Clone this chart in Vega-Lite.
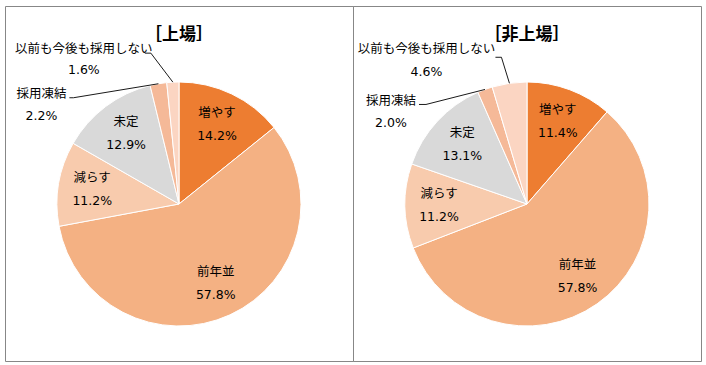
{
  "$schema": "https://vega.github.io/schema/vega-lite/v6.json",
  "padding": {"left": 4, "top": 5, "right": 0, "bottom": 0},
  "background": "white",
  "spacing": 0,
  "bounds": "flush",
  "config": {
    "view": {"stroke": "#878787", "strokeWidth": 1},
    "font": "Noto Sans CJK JP",
    "text": {"font": "DejaVu Sans, Noto Sans CJK JP", "fontSize": 12.5, "color": "#000000"}
  },
  "data": {
    "values": [
      {"panel": "上場", "category": "増やす", "share": 14.2, "order": 1},
      {"panel": "上場", "category": "前年並", "share": 57.8, "order": 2},
      {"panel": "上場", "category": "減らす", "share": 11.2, "order": 3},
      {"panel": "上場", "category": "未定", "share": 12.9, "order": 4},
      {"panel": "上場", "category": "採用凍結", "share": 2.2, "order": 5},
      {"panel": "上場", "category": "以前も今後も採用しない", "share": 1.6, "order": 6},
      {"panel": "非上場", "category": "増やす", "share": 11.4, "order": 1},
      {"panel": "非上場", "category": "前年並", "share": 57.8, "order": 2},
      {"panel": "非上場", "category": "減らす", "share": 11.2, "order": 3},
      {"panel": "非上場", "category": "未定", "share": 13.1, "order": 4},
      {"panel": "非上場", "category": "採用凍結", "share": 2.0, "order": 5},
      {"panel": "非上場", "category": "以前も今後も採用しない", "share": 4.6, "order": 6}
    ]
  },
  "hconcat": [
    {
      "width": 348,
      "height": 355,
      "title": {"text": "［上場］", "fontSize": 17, "fontWeight": "bold", "font": "Noto Sans CJK JP", "color": "#000000", "anchor": "middle", "offset": -38},
      "transform": [
        {"filter": "datum.panel == '上場'"},
        {"stack": "share", "groupby": [], "offset": "normalize", "sort": [{"field": "order", "order": "ascending"}], "as": ["s0", "s1"]},
        {"calculate": "(datum.s0 + datum.s1) / 2", "as": "mid"},
        {"calculate": "sin(PI * (datum.s0 + datum.s1))", "as": "ex"},
        {"calculate": "cos(PI * (datum.s0 + datum.s1))", "as": "ey"},
        {"calculate": "datum.category + '\\n' + format(datum.share, '.1f') + '%'", "as": "label"}
      ],
      "layer": [
        {
          "mark": {"type": "arc", "outerRadius": 122, "stroke": "white", "strokeWidth": 1},
          "encoding": {
            "x": {"datum": 0, "type": "quantitative", "scale": {"domain": [-1.42623, 1.42623], "nice": false, "zero": false}, "axis": null},
            "y": {"datum": 0, "type": "quantitative", "scale": {"domain": [-1.28689, 1.62295], "nice": false, "zero": false}, "axis": null},
            "theta": {"field": "s0", "type": "quantitative", "stack": null, "scale": {"domain": [0, 1], "nice": false}},
            "theta2": {"field": "s1"},
            "color": {"field": "category", "type": "nominal", "legend": null,
              "scale": {"domain": ["増やす", "前年並", "減らす", "未定", "採用凍結", "以前も今後も採用しない"],
                        "range": ["#ED7D31", "#F4B183", "#F8CBAD", "#D9D9D9", "#F5B998", "#FBD5C2"]}}
          }
        },
        {
          "transform": [{"filter": "datum.order <= 4"}],
          "mark": {"type": "text", "radius": 88, "dy": -11.5, "lineBreak": "\n", "lineHeight": 23, "align": "center", "baseline": "middle"},
          "encoding": {
            "x": {"datum": 0, "type": "quantitative", "axis": null},
            "y": {"datum": 0, "type": "quantitative", "axis": null},
            "theta": {"field": "mid", "type": "quantitative", "stack": null, "scale": {"domain": [0, 1], "nice": false}},
            "text": {"field": "label"}
          }
        },
        {
          "transform": [{"filter": "datum.order == 5"}],
          "mark": {"type": "text", "radius": 122, "dx": -117, "dy": 10, "lineBreak": "\n", "lineHeight": 22, "align": "center", "baseline": "middle"},
          "encoding": {
            "x": {"datum": 0, "type": "quantitative", "axis": null},
            "y": {"datum": 0, "type": "quantitative", "axis": null},
            "theta": {"field": "mid", "type": "quantitative", "stack": null, "scale": {"domain": [0, 1], "nice": false}},
            "text": {"field": "label"}
          }
        },
        {
          "transform": [{"filter": "datum.order == 6"}],
          "mark": {"type": "text", "radius": 122, "dx": -89, "dy": -33, "lineBreak": "\n", "lineHeight": 21, "align": "center", "baseline": "middle"},
          "encoding": {
            "x": {"datum": 0, "type": "quantitative", "axis": null},
            "y": {"datum": 0, "type": "quantitative", "axis": null},
            "theta": {"field": "mid", "type": "quantitative", "stack": null, "scale": {"domain": [0, 1], "nice": false}},
            "text": {"field": "label"}
          }
        },
        {
          "transform": [{"filter": "datum.order == 5"}],
          "mark": {"type": "rule", "color": "#1a1a1a", "strokeWidth": 1, "x2Offset": -85, "y2Offset": 14},
          "encoding": {
            "x": {"field": "ex", "type": "quantitative", "axis": null},
            "y": {"field": "ey", "type": "quantitative", "axis": null},
            "x2": {"field": "ex"},
            "y2": {"field": "ey"}
          }
        },
        {
          "transform": [{"filter": "datum.order == 5"}],
          "mark": {"type": "rule", "color": "#1a1a1a", "strokeWidth": 1, "xOffset": -85, "yOffset": 14, "x2Offset": -89, "y2Offset": 14},
          "encoding": {
            "x": {"field": "ex", "type": "quantitative", "axis": null},
            "y": {"field": "ey", "type": "quantitative", "axis": null},
            "x2": {"field": "ex"},
            "y2": {"field": "ey"}
          }
        },
        {
          "transform": [{"filter": "datum.order == 6"}],
          "mark": {"type": "rule", "color": "#1a1a1a", "strokeWidth": 1, "x2Offset": -22, "y2Offset": -29},
          "encoding": {
            "x": {"field": "ex", "type": "quantitative", "axis": null},
            "y": {"field": "ey", "type": "quantitative", "axis": null},
            "x2": {"field": "ex"},
            "y2": {"field": "ey"}
          }
        },
        {
          "transform": [{"filter": "datum.order == 6"}],
          "mark": {"type": "rule", "color": "#1a1a1a", "strokeWidth": 1, "xOffset": -22, "yOffset": -29, "x2Offset": -28, "y2Offset": -29},
          "encoding": {
            "x": {"field": "ex", "type": "quantitative", "axis": null},
            "y": {"field": "ey", "type": "quantitative", "axis": null},
            "x2": {"field": "ex"},
            "y2": {"field": "ey"}
          }
        }
      ]
    },
    {
      "width": 348,
      "height": 355,
      "title": {"text": "［非上場］", "fontSize": 17, "fontWeight": "bold", "font": "Noto Sans CJK JP", "color": "#000000", "anchor": "middle", "offset": -38},
      "transform": [
        {"filter": "datum.panel == '非上場'"},
        {"stack": "share", "groupby": [], "offset": "normalize", "sort": [{"field": "order", "order": "ascending"}], "as": ["s0", "s1"]},
        {"calculate": "(datum.s0 + datum.s1) / 2", "as": "mid"},
        {"calculate": "sin(PI * (datum.s0 + datum.s1))", "as": "ex"},
        {"calculate": "cos(PI * (datum.s0 + datum.s1))", "as": "ey"},
        {"calculate": "datum.category + '\\n' + format(datum.share, '.1f') + '%'", "as": "label"}
      ],
      "layer": [
        {
          "mark": {"type": "arc", "outerRadius": 122, "stroke": "white", "strokeWidth": 1},
          "encoding": {
            "x": {"datum": 0, "type": "quantitative", "scale": {"domain": [-1.42623, 1.42623], "nice": false, "zero": false}, "axis": null},
            "y": {"datum": 0, "type": "quantitative", "scale": {"domain": [-1.28689, 1.62295], "nice": false, "zero": false}, "axis": null},
            "theta": {"field": "s0", "type": "quantitative", "stack": null, "scale": {"domain": [0, 1], "nice": false}},
            "theta2": {"field": "s1"},
            "color": {"field": "category", "type": "nominal", "legend": null,
              "scale": {"domain": ["増やす", "前年並", "減らす", "未定", "採用凍結", "以前も今後も採用しない"],
                        "range": ["#ED7D31", "#F4B183", "#F8CBAD", "#D9D9D9", "#F5B998", "#FBD5C2"]}}
          }
        },
        {
          "transform": [{"filter": "datum.order <= 4"}],
          "mark": {"type": "text", "radius": 88, "dy": -11.5, "lineBreak": "\n", "lineHeight": 23, "align": "center", "baseline": "middle"},
          "encoding": {
            "x": {"datum": 0, "type": "quantitative", "axis": null},
            "y": {"datum": 0, "type": "quantitative", "axis": null},
            "theta": {"field": "mid", "type": "quantitative", "stack": null, "scale": {"domain": [0, 1], "nice": false}},
            "text": {"field": "label"}
          }
        },
        {
          "transform": [{"filter": "datum.order == 5"}],
          "mark": {"type": "text", "radius": 122, "dx": -94, "dy": 12, "lineBreak": "\n", "lineHeight": 22, "align": "center", "baseline": "middle"},
          "encoding": {
            "x": {"datum": 0, "type": "quantitative", "axis": null},
            "y": {"datum": 0, "type": "quantitative", "axis": null},
            "theta": {"field": "mid", "type": "quantitative", "stack": null, "scale": {"domain": [0, 1], "nice": false}},
            "text": {"field": "label"}
          }
        },
        {
          "transform": [{"filter": "datum.order == 6"}],
          "mark": {"type": "text", "radius": 122, "dx": -83, "dy": -34, "lineBreak": "\n", "lineHeight": 23, "align": "center", "baseline": "middle"},
          "encoding": {
            "x": {"datum": 0, "type": "quantitative", "axis": null},
            "y": {"datum": 0, "type": "quantitative", "axis": null},
            "theta": {"field": "mid", "type": "quantitative", "stack": null, "scale": {"domain": [0, 1], "nice": false}},
            "text": {"field": "label"}
          }
        },
        {
          "transform": [{"filter": "datum.order == 5"}],
          "mark": {"type": "rule", "color": "#1a1a1a", "strokeWidth": 1, "x2Offset": -59, "y2Offset": 15},
          "encoding": {
            "x": {"field": "ex", "type": "quantitative", "axis": null},
            "y": {"field": "ey", "type": "quantitative", "axis": null},
            "x2": {"field": "ex"},
            "y2": {"field": "ey"}
          }
        },
        {
          "transform": [{"filter": "datum.order == 5"}],
          "mark": {"type": "rule", "color": "#1a1a1a", "strokeWidth": 1, "xOffset": -59, "yOffset": 15, "x2Offset": -66, "y2Offset": 15},
          "encoding": {
            "x": {"field": "ex", "type": "quantitative", "axis": null},
            "y": {"field": "ey", "type": "quantitative", "axis": null},
            "x2": {"field": "ex"},
            "y2": {"field": "ey"}
          }
        },
        {
          "transform": [{"filter": "datum.order == 6"}],
          "mark": {"type": "rule", "color": "#1a1a1a", "strokeWidth": 1, "x2Offset": -8, "y2Offset": -26},
          "encoding": {
            "x": {"field": "ex", "type": "quantitative", "axis": null},
            "y": {"field": "ey", "type": "quantitative", "axis": null},
            "x2": {"field": "ex"},
            "y2": {"field": "ey"}
          }
        },
        {
          "transform": [{"filter": "datum.order == 6"}],
          "mark": {"type": "rule", "color": "#1a1a1a", "strokeWidth": 1, "xOffset": -8, "yOffset": -26, "x2Offset": -14, "y2Offset": -26},
          "encoding": {
            "x": {"field": "ex", "type": "quantitative", "axis": null},
            "y": {"field": "ey", "type": "quantitative", "axis": null},
            "x2": {"field": "ex"},
            "y2": {"field": "ey"}
          }
        }
      ]
    }
  ]
}
